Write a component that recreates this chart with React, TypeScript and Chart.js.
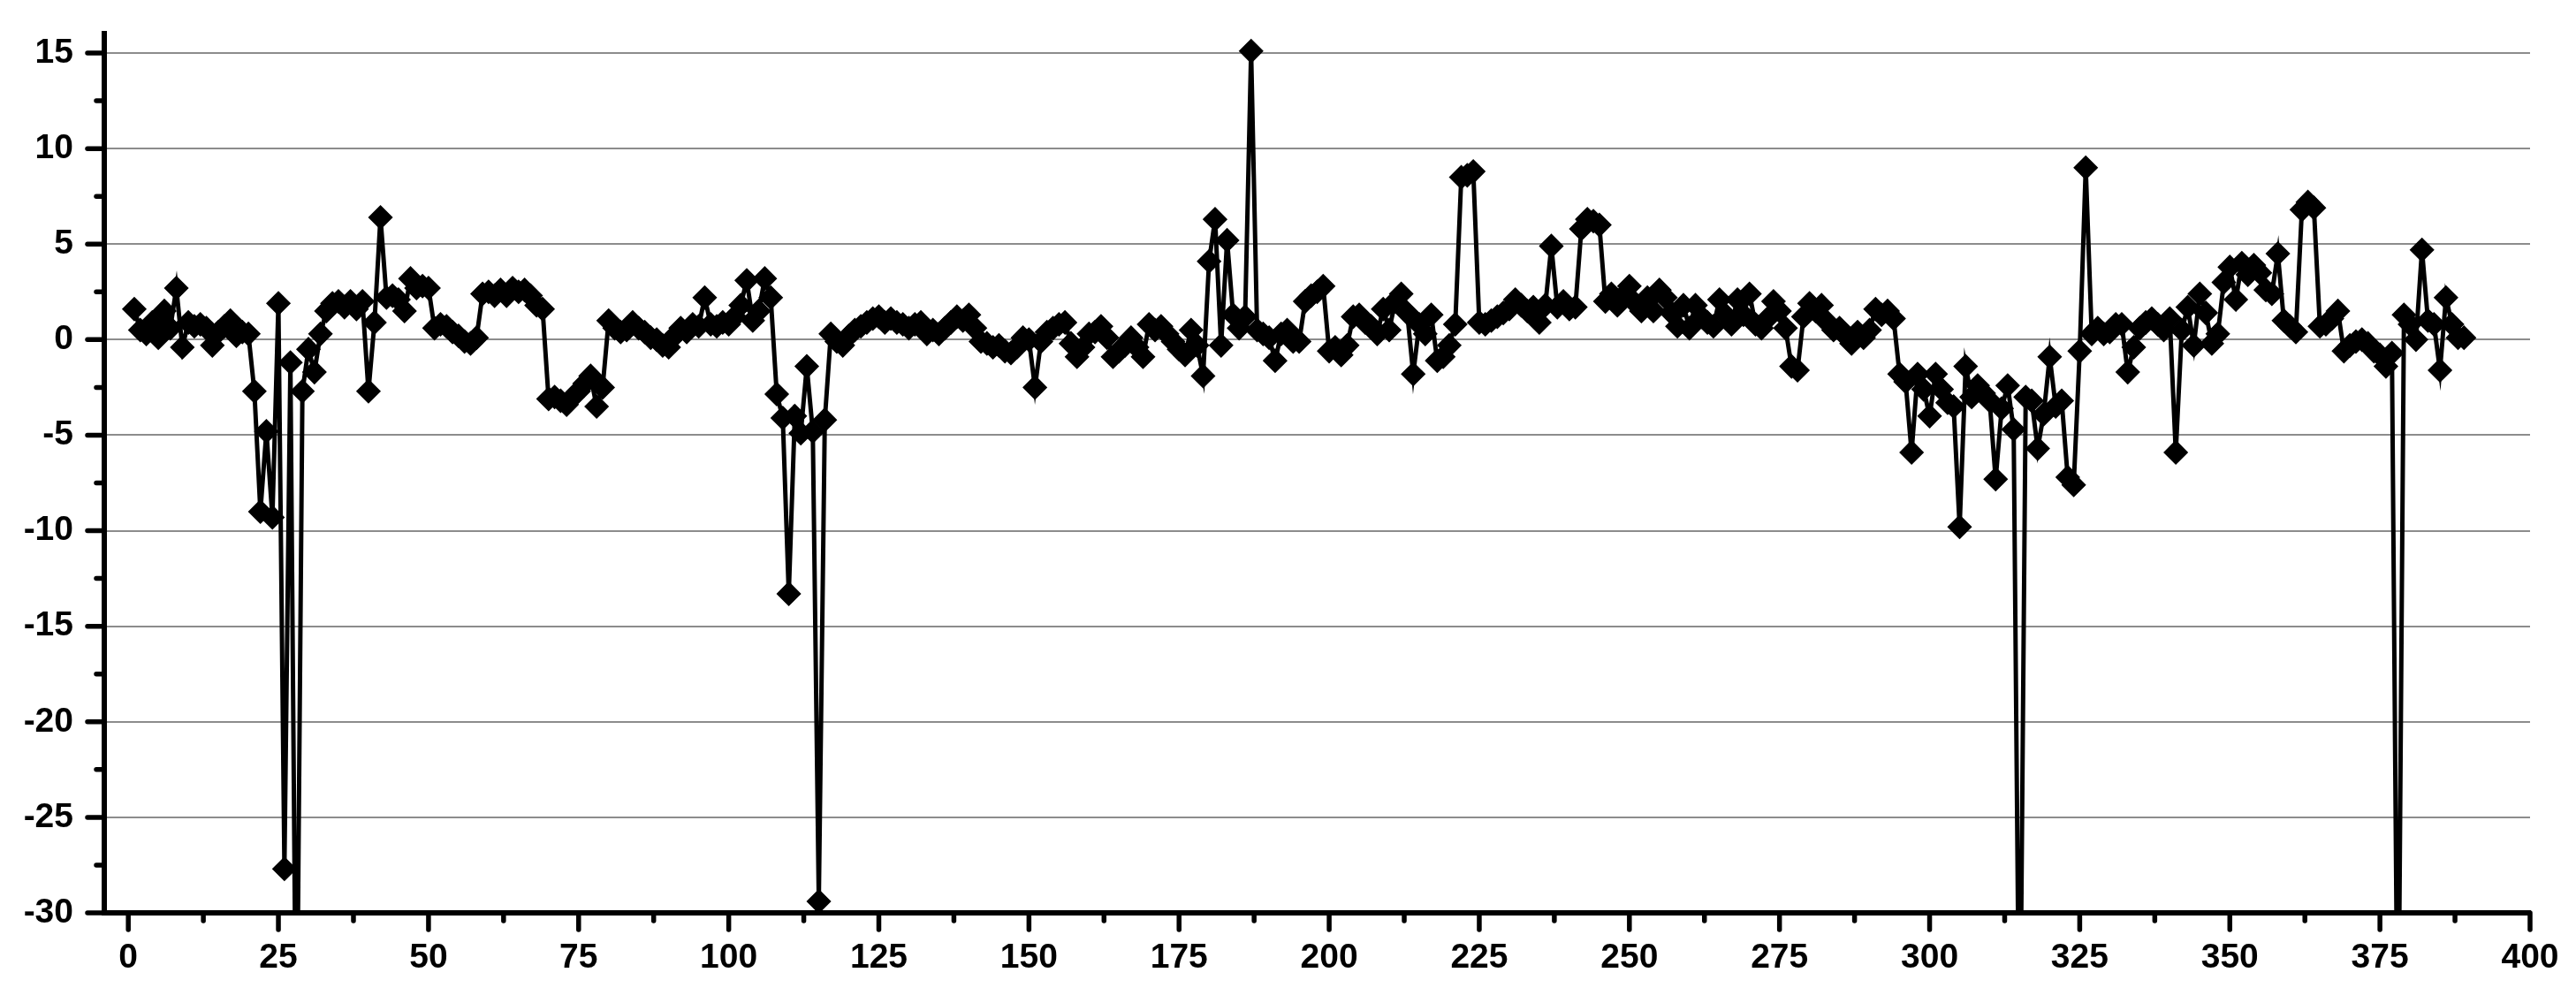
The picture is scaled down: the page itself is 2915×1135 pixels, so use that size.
import React, { useEffect, useRef } from "react";
import { Chart, registerables } from "chart.js";

Chart.register(...registerables);

const CANVAS_W = 2915;
const CANVAS_H = 1135;

// sample number of the first value
const firstSample = 1;

// series values, sample 1..389
const values: number[] = [
  1.6, 0.5, 0.3, 0.9, 0.1, 1.5, 0.6, 2.7, -0.4, 0.9,
  0.7, 0.8, 0.6, -0.3, 0.4, 0.7, 1.0, 0.2, 0.4, 0.3,
  -2.7, -9.0, -4.8, -9.3, 1.9, -27.7, -1.2, -40, -2.7, -0.5,
  -1.7, 0.3, 1.5, 1.9, 2.0, 1.7, 2.0, 1.6, 2.0, -2.7,
  0.9, 6.4, 2.2, 2.3, 2.1, 1.5, 3.2, 2.7, 2.8, 2.7,
  0.6, 0.8, 0.7, 0.4, 0.2, -0.1, -0.2, 0.1, 2.4, 2.5,
  2.3, 2.6, 2.3, 2.7, 2.5, 2.6, 2.3, 1.8, 1.6, -3.1,
  -3.0, -3.2, -3.4, -3.0, -2.7, -2.3, -1.9, -3.5, -2.5, 1.0,
  0.6, 0.4, 0.5, 0.9, 0.6, 0.4, 0.1, 0.0, -0.3, -0.4,
  0.2, 0.6, 0.4, 0.8, 0.7, 2.2, 0.8, 0.7, 0.9, 0.8,
  1.2, 1.8, 3.1, 1.0, 1.5, 3.2, 2.2, -2.85, -4.1, -13.3,
  -4.0, -4.9, -1.4, -4.8, -29.4, -4.2, 0.3, -0.1, -0.3, 0.2,
  0.5, 0.7, 0.9, 1.1, 1.2, 0.9, 1.1, 0.9, 0.8, 0.6,
  0.8, 0.9, 0.3, 0.5, 0.3, 0.6, 0.9, 1.2, 1.0, 1.3,
  0.6, -0.1, -0.2, -0.4, -0.3, -0.6, -0.7, -0.4, 0.1, 0.0,
  -2.5, -0.1, 0.4, 0.6, 0.8, 0.9, -0.2, -0.9, -0.4, 0.3,
  0.4, 0.7, 0.1, -0.9, -0.6, -0.3, 0.1, -0.4, -0.9, 0.8,
  0.5, 0.7, 0.3, -0.1, -0.5, -0.8, 0.5, -0.3, -1.9, 4.1,
  6.3, -0.3, 5.2, 1.3, 0.6, 1.2, 15.1, 0.5, 0.3, 0.1,
  -1.1, 0.3, 0.5, -0.1, -0.1, 2.0, 2.3, 2.5, 2.8, -0.6,
  -0.4, -0.8, -0.3, 1.2, 1.3, 0.9, 0.7, 0.3, 1.6, 0.5,
  2.0, 2.4, 1.4, -1.8, 0.8, 0.3, 1.3, -1.1, -0.9, -0.3,
  0.8, 8.5, 8.6, 8.8, 0.9, 0.8, 1.0, 1.2, 1.4, 1.6,
  2.1, 1.8, 1.5, 1.7, 0.9, 1.8, 4.9, 1.7, 2.0, 1.6,
  1.7, 5.8, 6.3, 6.2, 6.0, 2.0, 2.4, 1.8, 2.3, 2.8,
  1.9, 1.5, 2.2, 1.5, 2.6, 2.2, 1.4, 0.7, 1.8, 0.6,
  1.8, 1.2, 0.9, 0.7, 2.1, 1.3, 0.8, 2.1, 1.3, 2.4,
  0.8, 0.6, 1.1, 2.0, 1.5, 0.6, -1.4, -1.6, 1.2, 1.9,
  1.5, 1.8, 0.9, 0.5, 0.6, 0.2, -0.2, 0.4, 0.1, 0.5,
  1.6, 1.3, 1.5, 1.1, -1.8, -2.2, -5.9, -1.8, -2.6, -4.0,
  -1.8, -2.6, -3.3, -3.5, -9.8, -1.4, -3.0, -2.4, -2.8, -3.2,
  -7.3, -3.6, -2.4, -4.7, -40, -3.0, -3.2, -5.7, -3.9, -0.9,
  -3.5, -3.2, -7.2, -7.6, -0.6, 9.0, 0.3, 0.6, 0.3, 0.4,
  0.8, 0.8, -1.7, -0.4, 0.6, 0.9, 1.1, 0.8, 0.5, 1.1,
  -5.9, 0.5, 1.7, -0.3, 2.4, 1.4, -0.2, 0.3, 3.0, 3.8,
  2.1, 4.0, 3.4, 3.9, 3.5, 2.6, 2.4, 4.5, 1.0, 0.7,
  0.4, 6.8, 7.2, 6.9, 0.7, 0.8, 1.1, 1.5, -0.6, -0.3,
  -0.1, 0.0, -0.2, -0.6, -0.8, -1.4, -0.7, -40, 1.3, 0.8,
  0.0, 4.7, 1.0, 0.8, -1.6, 2.2, 0.8, 0.1, 0.1,
];

// axis ticks
const xTickValues = [0, 25, 50, 75, 100, 125, 150, 175, 200, 225, 250, 275, 300, 325, 350, 375, 400];
const xMinorTickValues = [12.5, 37.5, 62.5, 87.5, 112.5, 137.5, 162.5, 187.5, 212.5, 237.5, 262.5, 287.5, 312.5, 337.5, 362.5, 387.5];
const yTickValues = [-30, -25, -20, -15, -10, -5, 0, 5, 10, 15];
const yMinorTickValues = [-27.5, -22.5, -17.5, -12.5, -7.5, -2.5, 2.5, 7.5, 12.5];

const X_MIN = -4;
const X_MAX = 400;
const Y_MIN = -30;
const Y_MAX = 16;

const FONT = { family: "'Liberation Sans', Arial, sans-serif", weight: "bold" as const, size: 39 };

const tickMarksPlugin = {
  id: "tickMarks",
  afterDraw(chart: any) {
    const { ctx, chartArea } = chart;
    const xs = chart.scales.x;
    const ys = chart.scales.y;
    ctx.save();
    ctx.strokeStyle = "#000";
    ctx.lineWidth = 5.5;
    ctx.lineCap = "round";
    const drawY = (v: number, len: number) => {
      const py = ys.getPixelForValue(v);
      ctx.beginPath();
      ctx.moveTo(chartArea.left, py);
      ctx.lineTo(chartArea.left - len, py);
      ctx.stroke();
    };
    const drawX = (v: number, len: number) => {
      const px = xs.getPixelForValue(v);
      ctx.beginPath();
      ctx.moveTo(px, chartArea.bottom);
      ctx.lineTo(px, chartArea.bottom + len);
      ctx.stroke();
    };
    yTickValues.forEach((v) => drawY(v, 19));
    yMinorTickValues.forEach((v) => drawY(v, 9));
    xTickValues.forEach((v) => drawX(v, 19));
    xMinorTickValues.forEach((v) => drawX(v, 9));
    ctx.restore();
  },
};

export default function App() {
  const canvasRef = useRef<HTMLCanvasElement | null>(null);

  useEffect(() => {
    const canvas = canvasRef.current;
    if (!canvas) return;
    const points = values.map((v, i) => ({ x: firstSample + i, y: v }));

    const chart = new Chart(canvas, {
      type: "line",
      data: {
        datasets: [
          {
            data: points,
            borderColor: "#000",
            backgroundColor: "#000",
            borderWidth: 5,
            pointStyle: "rectRot",
            pointRadius: 13,
            pointBorderWidth: 1.5,
            pointBackgroundColor: "#000",
            pointBorderColor: "#000",
            tension: 0,
            clip: { left: 16, top: 16, right: 16, bottom: 0 } as any,
          },
        ],
      },
      options: {
        responsive: false,
        animation: false,
        devicePixelRatio: 1,
        layout: { padding: { top: 33, right: 52, left: 0, bottom: 0 } },
        plugins: { legend: { display: false }, tooltip: { enabled: false } },
        scales: {
          x: {
            type: "linear",
            position: "bottom",
            min: X_MIN,
            max: X_MAX,
            afterBuildTicks: (s: any) => {
              s.ticks = xTickValues.map((v) => ({ value: v }));
            },
            afterFit: (s: any) => {
              s.height = CANVAS_H - 1033;
            },
            ticks: { font: FONT, color: "#000", padding: 8, maxRotation: 0, autoSkip: false },
            grid: { drawOnChartArea: false, drawTicks: true, tickLength: 20, tickColor: "rgba(0,0,0,0)" },
            border: { display: true, color: "#000", width: 6 },
          },
          y: {
            type: "linear",
            min: Y_MIN,
            max: Y_MAX,
            afterBuildTicks: (s: any) => {
              s.ticks = yTickValues.map((v) => ({ value: v }));
            },
            afterFit: (s: any) => {
              s.width = 118;
            },
            ticks: { font: FONT, color: "#000", padding: 15, autoSkip: false },
            grid: { color: "#8c8c8c", lineWidth: 2, drawTicks: true, tickLength: 20, tickColor: "rgba(0,0,0,0)" },
            border: { display: true, color: "#000", width: 6 },
          },
        },
      },
      plugins: [tickMarksPlugin],
    });
    return () => chart.destroy();
  }, []);

  return (
    <div style={{ position: "fixed", left: 0, top: 0, width: CANVAS_W, height: CANVAS_H, background: "#fff" }}>
      <canvas ref={canvasRef} width={CANVAS_W} height={CANVAS_H} style={{ width: CANVAS_W, height: CANVAS_H }} />
    </div>
  );
}
